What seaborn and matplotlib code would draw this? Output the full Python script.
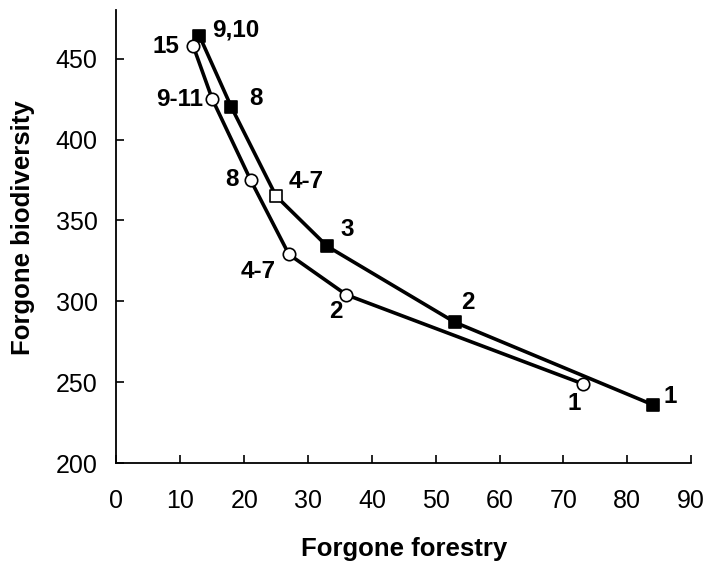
import matplotlib
matplotlib.use("Agg")
import matplotlib.pyplot as plt
import seaborn as sns
import pandas as pd

# series with square markers
sq_x = [13, 18, 25, 33, 53, 84]
sq_y = [464, 420, 365, 334, 287, 236]
sq_labels = ["9,10", "8", "4-7", "3", "2", "1"]
sq_filled = [True, True, False, True, True, True]

# series with circle markers
ci_x = [12, 15, 21, 27, 36, 73]
ci_y = [458, 425, 375, 329, 304, 249]
ci_labels = ["15", "9-11", "8", "4-7", "2", "1"]

x_ticks = [0, 10, 20, 30, 40, 50, 60, 70, 80, 90]
y_ticks = [200, 250, 300, 350, 400, 450]

# label offsets in pixels from each marker
sq_offsets = [(36, 6), (25, 9), (30, 15), (20, 17), (13, 20), (17, 8)]
ci_offsets = [(-27, -1), (-33, 0), (-19, 0), (-31, -17), (-10, -17), (-8, -20)]

sns.set_style("white")
plt.rcParams['font.family'] = ['Liberation Sans', 'DejaVu Sans']
plt.rcParams['text.color'] = 'black'
plt.rcParams['axes.labelcolor'] = 'black'
plt.rcParams['xtick.color'] = 'black'
plt.rcParams['ytick.color'] = 'black'

sq = pd.DataFrame({"x": sq_x, "y": sq_y, "filled": sq_filled})
ci = pd.DataFrame({"x": ci_x, "y": ci_y})

fig = plt.figure(figsize=(7.06, 5.63), dpi=100)
ax = fig.add_axes([0.165, 0.1776, 0.814, 0.8044])

sns.lineplot(data=sq, x="x", y="y", sort=False, color="black", lw=2.6, ax=ax, zorder=2)
sns.lineplot(data=ci, x="x", y="y", sort=False, color="black", lw=2.6, ax=ax, zorder=2)

sns.scatterplot(data=sq[sq["filled"]], x="x", y="y", marker="s", s=85,
                color="black", edgecolor="black", linewidth=1.2, ax=ax, zorder=3)
sns.scatterplot(data=sq[~sq["filled"]], x="x", y="y", marker="s", s=85,
                color="white", edgecolor="black", linewidth=1.2, ax=ax, zorder=3)
sns.scatterplot(data=ci, x="x", y="y", marker="o", s=80,
                color="white", edgecolor="black", linewidth=1.2, ax=ax, zorder=3)

for x, y, lab, off in zip(sq_x, sq_y, sq_labels, sq_offsets):
    ax.annotate(lab, (x, y), xytext=off, textcoords="offset pixels",
                ha="center", va="center", fontsize=17.5, fontweight="bold")
for x, y, lab, off in zip(ci_x, ci_y, ci_labels, ci_offsets):
    ax.annotate(lab, (x, y), xytext=off, textcoords="offset pixels",
                ha="center", va="center", fontsize=17.5, fontweight="bold")

ax.set_xlim(0, 90)
ax.set_ylim(200, 480)
ax.set_xticks(x_ticks)
ax.set_yticks(y_ticks)
ax.tick_params(direction="in", length=6, width=1.2, labelsize=18,
               bottom=True, left=True)
ax.tick_params(axis="x", pad=19)
ax.tick_params(axis="y", pad=13.5)

sns.despine(ax=ax)
for side in ["left", "bottom"]:
    ax.spines[side].set_linewidth(1.3)
    ax.spines[side].set_color("black")

ax.set_xlabel("Forgone forestry", fontsize=18.5, fontweight="bold")
ax.set_ylabel("Forgone biodiversity", fontsize=18.5, fontweight="bold")
ax.xaxis.label.set_va("center")
ax.yaxis.label.set_va("center")
ax.xaxis.set_label_coords(0.5, (463 - 549) / 453)
ax.yaxis.set_label_coords((23 - 116.5) / 575, 0.52)

fig.savefig("out.png", dpi=100)
